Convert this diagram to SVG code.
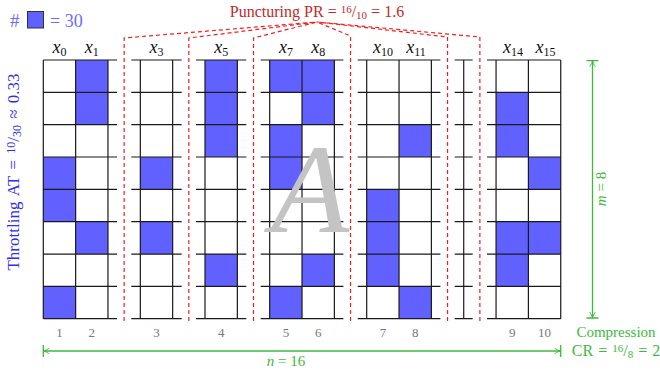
<svg xmlns="http://www.w3.org/2000/svg" width="660" height="376" viewBox="0 0 660 376">
<defs>
<style>
text{font-family:"Liberation Serif","DejaVu Serif",serif}
.f{fill:#6161ff}
.g{fill:none;stroke:#1a1a1a;stroke-width:1.2}
.d{fill:none;stroke:#f02020;stroke-width:1.2;stroke-dasharray:4 3}
.gr{fill:none;stroke:#3cba3c;stroke-width:1.3}
.hd{font-size:18px;fill:#111;text-anchor:middle}
.sb{font-size:12px}
.nm{font-size:13px;fill:#777;text-anchor:middle}
.it{font-style:italic}
</style>
<marker id="tip" viewBox="0 0 10 10" refX="9.6" refY="5" markerWidth="7" markerHeight="7" markerUnits="userSpaceOnUse" orient="auto-start-reverse">
<path d="M1,1 Q5.5,4.3 9.6,5 Q5.5,5.7 1,9" fill="none" stroke="#3cba3c" stroke-width="1.3"/>
</marker>
</defs>
<rect width="660" height="376" fill="#fff"/>

<g id="legend">
<text x="10" y="27" font-size="19" fill="#6c6cff">#</text>
<rect x="27.5" y="11.5" width="16" height="16.5" fill="#6161ff" stroke="#333" stroke-width="1"/>
<text x="50" y="27" font-size="18" fill="#6c6cff">= 30</text>
</g>

<g id="cells">
<rect class="f" x="43.3" y="157.02" width="32.34" height="32.34"/>
<rect class="f" x="43.3" y="189.36" width="32.34" height="32.34"/>
<rect class="f" x="43.3" y="286.38" width="32.34" height="32.34"/>
<rect class="f" x="75.64" y="60" width="32.34" height="32.34"/>
<rect class="f" x="75.64" y="92.34" width="32.34" height="32.34"/>
<rect class="f" x="75.64" y="221.7" width="32.34" height="32.34"/>
<rect class="f" x="140.32" y="157.02" width="32.34" height="32.34"/>
<rect class="f" x="140.32" y="221.7" width="32.34" height="32.34"/>
<rect class="f" x="205" y="60" width="32.34" height="32.34"/>
<rect class="f" x="205" y="92.34" width="32.34" height="32.34"/>
<rect class="f" x="205" y="124.68" width="32.34" height="32.34"/>
<rect class="f" x="205" y="254.04" width="32.34" height="32.34"/>
<rect class="f" x="269.68" y="60" width="32.34" height="32.34"/>
<rect class="f" x="269.68" y="124.68" width="32.34" height="32.34"/>
<rect class="f" x="269.68" y="157.02" width="32.34" height="32.34"/>
<rect class="f" x="269.68" y="286.38" width="32.34" height="32.34"/>
<rect class="f" x="302.02" y="60" width="32.34" height="32.34"/>
<rect class="f" x="302.02" y="92.34" width="32.34" height="32.34"/>
<rect class="f" x="302.02" y="254.04" width="32.34" height="32.34"/>
<rect class="f" x="366.7" y="189.36" width="32.34" height="32.34"/>
<rect class="f" x="366.7" y="221.7" width="32.34" height="32.34"/>
<rect class="f" x="366.7" y="254.04" width="32.34" height="32.34"/>
<rect class="f" x="399.04" y="124.68" width="32.34" height="32.34"/>
<rect class="f" x="399.04" y="286.38" width="32.34" height="32.34"/>
<rect class="f" x="496.06" y="92.34" width="32.34" height="32.34"/>
<rect class="f" x="496.06" y="124.68" width="32.34" height="32.34"/>
<rect class="f" x="496.06" y="221.7" width="32.34" height="32.34"/>
<rect class="f" x="496.06" y="254.04" width="32.34" height="32.34"/>
<rect class="f" x="528.4" y="157.02" width="32.34" height="32.34"/>
<rect class="f" x="528.4" y="221.7" width="32.34" height="32.34"/>
</g>

<g id="grid">
<path id="g1" class="g" d="M43.3,60H117M43.3,92.34H117M43.3,124.68H117M43.3,157.02H117M43.3,189.36H117M43.3,221.7H117M43.3,254.04H117M43.3,286.38H117M43.3,318.72H117M43.3,60V318.72M75.64,60V318.72M107.98,60V318.72"/>
<path id="g2" class="g" d="M131.3,60H181.7M131.3,92.34H181.7M131.3,124.68H181.7M131.3,157.02H181.7M131.3,189.36H181.7M131.3,221.7H181.7M131.3,254.04H181.7M131.3,286.38H181.7M131.3,318.72H181.7M140.32,60V318.72M172.66,60V318.72"/>
<path id="g3" class="g" d="M196,60H246.3M196,92.34H246.3M196,124.68H246.3M196,157.02H246.3M196,189.36H246.3M196,221.7H246.3M196,254.04H246.3M196,286.38H246.3M196,318.72H246.3M205,60V318.72M237.34,60V318.72"/>
<path id="g4" class="g" d="M260.7,60H343.4M260.7,92.34H343.4M260.7,124.68H343.4M260.7,157.02H343.4M260.7,189.36H343.4M260.7,221.7H343.4M260.7,254.04H343.4M260.7,286.38H343.4M260.7,318.72H343.4M269.68,60V318.72M302.02,60V318.72M334.36,60V318.72"/>
<path id="g5" class="g" d="M357.7,60H440.4M357.7,92.34H440.4M357.7,124.68H440.4M357.7,157.02H440.4M357.7,189.36H440.4M357.7,221.7H440.4M357.7,254.04H440.4M357.7,286.38H440.4M357.7,318.72H440.4M366.7,60V318.72M399.04,60V318.72M431.38,60V318.72"/>
<path id="g6" class="g" d="M454.7,60H472.7M454.7,92.34H472.7M454.7,124.68H472.7M454.7,157.02H472.7M454.7,189.36H472.7M454.7,221.7H472.7M454.7,254.04H472.7M454.7,286.38H472.7M454.7,318.72H472.7M463.72,60V318.72"/>
<path id="g7" class="g" d="M487,60H560.74M487,92.34H560.74M487,124.68H560.74M487,157.02H560.74M487,189.36H560.74M487,221.7H560.74M487,254.04H560.74M487,286.38H560.74M487,318.72H560.74M496.06,60V318.72M528.4,60V318.72M560.74,60V318.72"/>
</g>

<text id="bigA" x="310" y="232" font-size="128" font-style="italic" fill="#c4c4c4" text-anchor="middle">A</text>

<g id="headers">
<text class="hd" x="59.5" y="53"><tspan class="it">x</tspan><tspan class="sb" dy="3">0</tspan></text>
<text class="hd" x="91.8" y="53"><tspan class="it">x</tspan><tspan class="sb" dy="3">1</tspan></text>
<text class="hd" x="156.5" y="53"><tspan class="it">x</tspan><tspan class="sb" dy="3">3</tspan></text>
<text class="hd" x="221.2" y="53"><tspan class="it">x</tspan><tspan class="sb" dy="3">5</tspan></text>
<text class="hd" x="285.9" y="53"><tspan class="it">x</tspan><tspan class="sb" dy="3">7</tspan></text>
<text class="hd" x="318.2" y="53"><tspan class="it">x</tspan><tspan class="sb" dy="3">8</tspan></text>
<text class="hd" x="383" y="53"><tspan class="it">x</tspan><tspan class="sb" dy="3">10</tspan></text>
<text class="hd" x="416" y="53"><tspan class="it">x</tspan><tspan class="sb" dy="3">11</tspan></text>
<text class="hd" x="513" y="53"><tspan class="it">x</tspan><tspan class="sb" dy="3">14</tspan></text>
<text class="hd" x="545.5" y="53"><tspan class="it">x</tspan><tspan class="sb" dy="3">15</tspan></text>
</g>

<g id="numbers">
<text class="nm" x="59.5" y="337">1</text>
<text class="nm" x="91.8" y="337">2</text>
<text class="nm" x="156.5" y="337">3</text>
<text class="nm" x="221.2" y="337">4</text>
<text class="nm" x="285.9" y="337">5</text>
<text class="nm" x="318.2" y="337">6</text>
<text class="nm" x="382.9" y="337">7</text>
<text class="nm" x="415.2" y="337">8</text>
<text class="nm" x="512.2" y="337">9</text>
<text class="nm" x="544.6" y="337">10</text>
</g>

<g id="connectors">
<path class="d" d="M124.15,321V38L317,22"/>
<path class="d" d="M188.83,321V38L317,22"/>
<path class="d" d="M253.51,321V38L317,22"/>
<path class="d" d="M350.53,321V36L317,22"/>
<path class="d" d="M447.55,321V37L317,22"/>
<path class="d" d="M479.89,321V37L317,22"/>
<path class="gr" d="M43.3,351H560.7" marker-start="url(#tip)" marker-end="url(#tip)"/>
<path class="gr" d="M43.3,345V357M560.7,345V357"/>
<path class="gr" d="M592.5,60.7V318" marker-start="url(#tip)" marker-end="url(#tip)"/>
<path class="gr" d="M586.5,60.7H598.5M586.5,318H598.5"/>
</g>

<g id="labels">
<text x="317" y="17" font-size="16" fill="#bf2a2a" text-anchor="middle">Puncturing PR = <tspan font-size="11" dy="-4">16</tspan><tspan dy="4">/</tspan><tspan font-size="11" dy="2">10</tspan><tspan dy="-2"> = 1.6</tspan></text>
<text transform="translate(19,172) rotate(-90)" font-size="17" fill="#2e2ee8" text-anchor="middle" word-spacing="2">Throttling AT = <tspan font-size="12" dy="-4">10</tspan><tspan dy="4">/</tspan><tspan font-size="12" dy="2">30</tspan><tspan dy="-2"> ≈ 0.33</tspan></text>
<text transform="translate(606,189) rotate(-90)" font-size="15" fill="#3cba3c" text-anchor="middle"><tspan class="it">m</tspan> = 8</text>
<text x="286" y="366" font-size="15" fill="#3cba3c" text-anchor="middle"><tspan class="it">n</tspan> = 16</text>
<text x="616" y="337" font-size="15" fill="#3cba3c" text-anchor="middle">Compression</text>
<text x="616" y="356" font-size="16" fill="#3cba3c" text-anchor="middle" word-spacing="1">CR = <tspan font-size="11" dy="-4">16</tspan><tspan dy="4">/</tspan><tspan font-size="11" dy="2">8</tspan><tspan dy="-2"> = 2</tspan></text>
</g>
</svg>
